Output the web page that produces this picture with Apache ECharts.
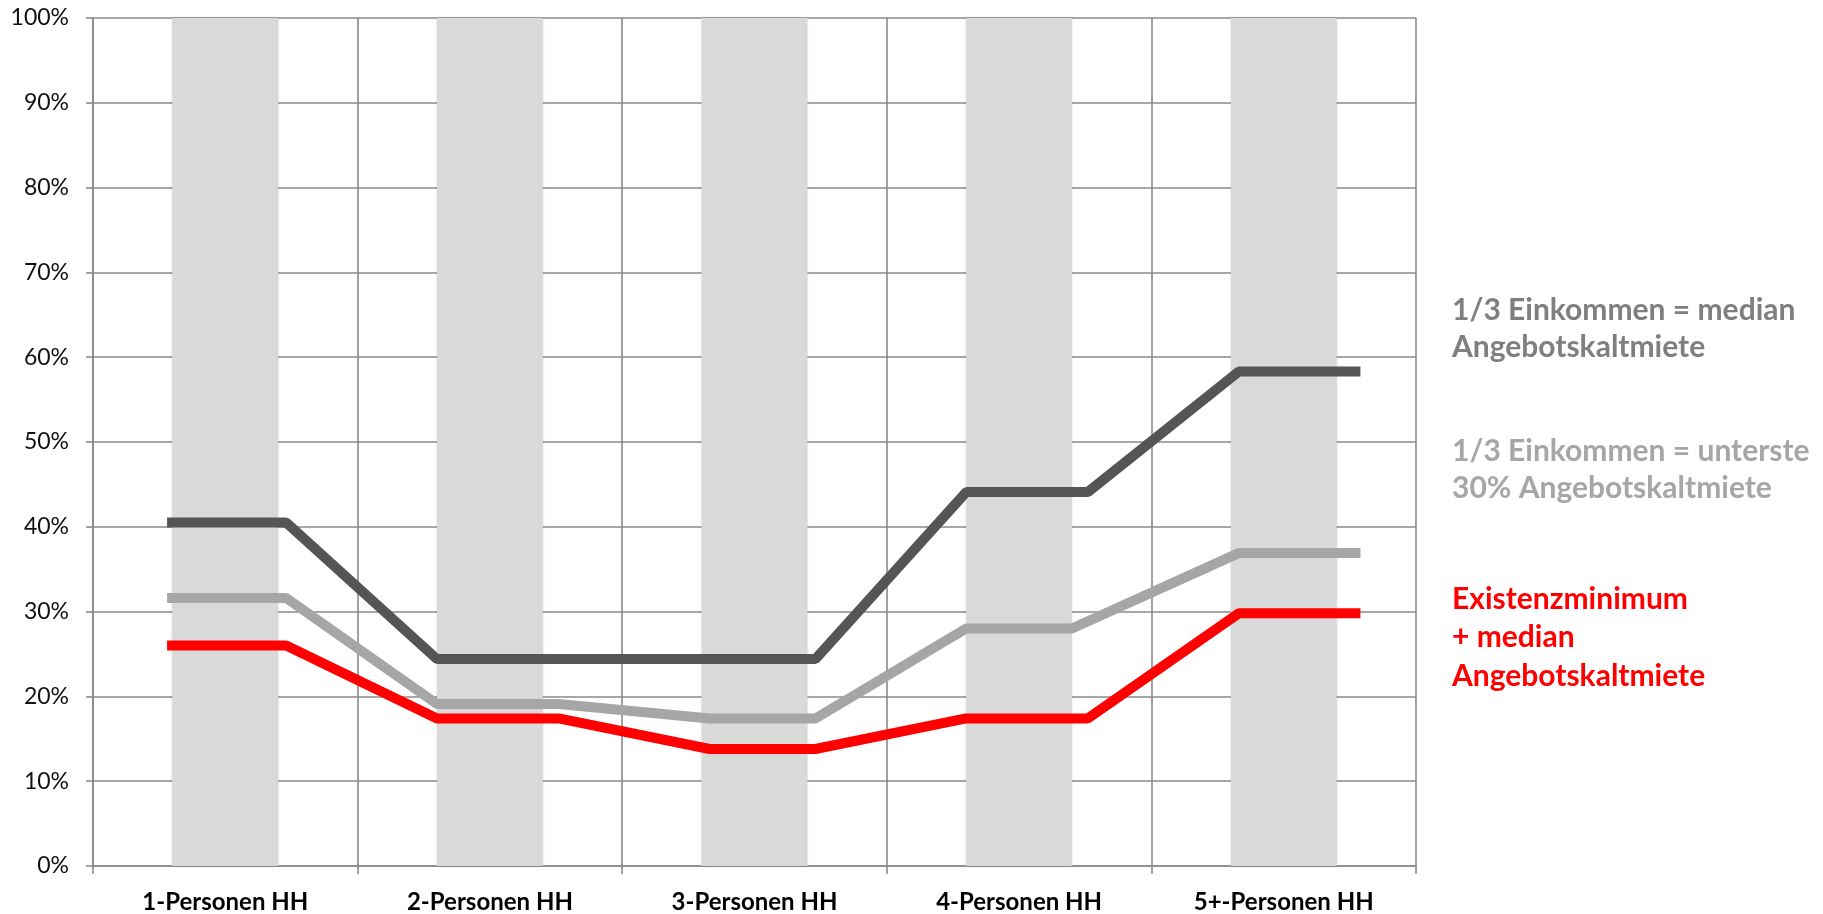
<!DOCTYPE html>
<html lang="de">
<head>
<meta charset="utf-8">
<title>Mietbelastung nach Haushaltsgröße</title>
<script src="https://cdn.jsdelivr.net/npm/echarts@6.0.0/dist/echarts.min.js"></script>
<style>
  html, body { margin: 0; padding: 0; background: #ffffff; }
  #chart { width: 1823px; height: 914px; }
</style>
</head>
<body>
<div id="chart"></div>
<script>
// Household sizes along the x axis
const categories = ['1-Personen HH', '2-Personen HH', '3-Personen HH', '4-Personen HH', '5+-Personen HH'];

// Share of income (%) per household size
const medianRent = [40.5, 24.4, 24.4, 44.1, 58.3];       // 1/3 Einkommen = median Angebotskaltmiete
const lowestRent = [31.6, 19.1, 17.4, 28.0, 36.9];       // 1/3 Einkommen = unterste 30% Angebotskaltmiete
const subsistenceRent = [26.0, 17.4, 13.8, 17.4, 29.8];  // Existenzminimum + median Angebotskaltmiete

// Background columns span the full 0–100 % range
const columnValues = [100, 100, 100, 100, 100];

// x positions (in category units, 0..5) where each flat line step starts and ends
const stepStart = [0.28, 1.30, 2.33, 3.30, 4.33];
const stepEnd = [0.73, 1.76, 2.73, 3.76, 4.79];
const lowestStepEnd = [0.73, 1.76, 2.73, 3.70, 4.79];

// Text blocks beside the plot
const labelMedian = ['1/3 Einkommen = median', 'Angebotskaltmiete'];
const labelLowest = ['1/3 Einkommen = unterste', '30% Angebotskaltmiete'];
const labelSubsistence = ['Existenzminimum', '+ median', 'Angebotskaltmiete'];

const FONT = 'Lato, "Open Sans", sans-serif';
const GRID_COLOR = '#8a8a8a';

function steps(values, starts, ends) {
  const pts = [];
  values.forEach((v, i) => {
    pts.push([starts[i], v]);
    pts.push([ends[i], v]);
  });
  return pts;
}

function lineSeries(name, values, ends, color) {
  return {
    name: name,
    type: 'line',
    xAxisIndex: 1,
    yAxisIndex: 0,
    data: steps(values, stepStart, ends),
    symbol: 'none',
    silent: true,
    lineStyle: { color: color, width: 10, cap: 'butt', join: 'bevel' },
    z: 3
  };
}

const chart = echarts.init(document.getElementById('chart'), null, { renderer: 'canvas' });

chart.setOption({
  backgroundColor: '#ffffff',
  animation: false,
  grid: { left: 93, right: 407, top: 18, bottom: 46, containLabel: false },
  xAxis: [
    {
      type: 'category',
      data: categories,
      boundaryGap: true,
      axisLine: { show: true, lineStyle: { color: GRID_COLOR, width: 1.6 } },
      axisTick: { show: true, interval: 0, length: 8, lineStyle: { color: GRID_COLOR, width: 1.6 } },
      splitLine: { show: true, interval: 0, lineStyle: { color: GRID_COLOR, width: 1.6 } },
      axisLabel: {
        interval: 0,
        margin: 24,
        color: '#000000',
        fontFamily: FONT,
        fontWeight: 'bold',
        fontSize: 24
      }
    },
    {
      type: 'value',
      min: 0,
      max: 5,
      show: false,
      splitLine: { show: false }
    }
  ],
  yAxis: {
    type: 'value',
    min: 0,
    max: 100,
    interval: 10,
    axisLine: { show: true, lineStyle: { color: GRID_COLOR, width: 1.6 } },
    axisTick: { show: true, length: 7, lineStyle: { color: GRID_COLOR, width: 1.6 } },
    splitLine: { show: true, lineStyle: { color: GRID_COLOR, width: 1.6 } },
    axisLabel: {
      formatter: '{value}%',
      margin: 24,
      color: '#111111',
      fontFamily: FONT,
      fontSize: 23
    }
  },
  series: [
    {
      type: 'bar',
      xAxisIndex: 0,
      data: columnValues,
      barWidth: '40%',
      silent: true,
      itemStyle: {
        color: '#d9d9d9',
        shadowColor: 'rgba(0,0,0,0.18)',
        shadowBlur: 3
      },
      z: 1
    },
    lineSeries('median', medianRent, stepEnd, '#555555'),
    lineSeries('unterste', lowestRent, lowestStepEnd, '#a6a6a6'),
    lineSeries('existenz', subsistenceRent, stepEnd, '#ff0000')
  ],
  graphic: [
    {
      type: 'text', left: 1452, top: 292,
      style: { text: labelMedian.join('\n'), fill: '#7f7f7f', font: 'bold 30px ' + FONT, lineHeight: 37 }
    },
    {
      type: 'text', left: 1452, top: 433,
      style: { text: labelLowest.join('\n'), fill: '#a6a6a6', font: 'bold 30px ' + FONT, lineHeight: 37 }
    },
    {
      type: 'text', left: 1452, top: 580,
      style: { text: labelSubsistence.join('\n'), fill: '#ff0000', font: 'bold 30px ' + FONT, lineHeight: 38.5 }
    }
  ]
});
</script>
</body>
</html>
